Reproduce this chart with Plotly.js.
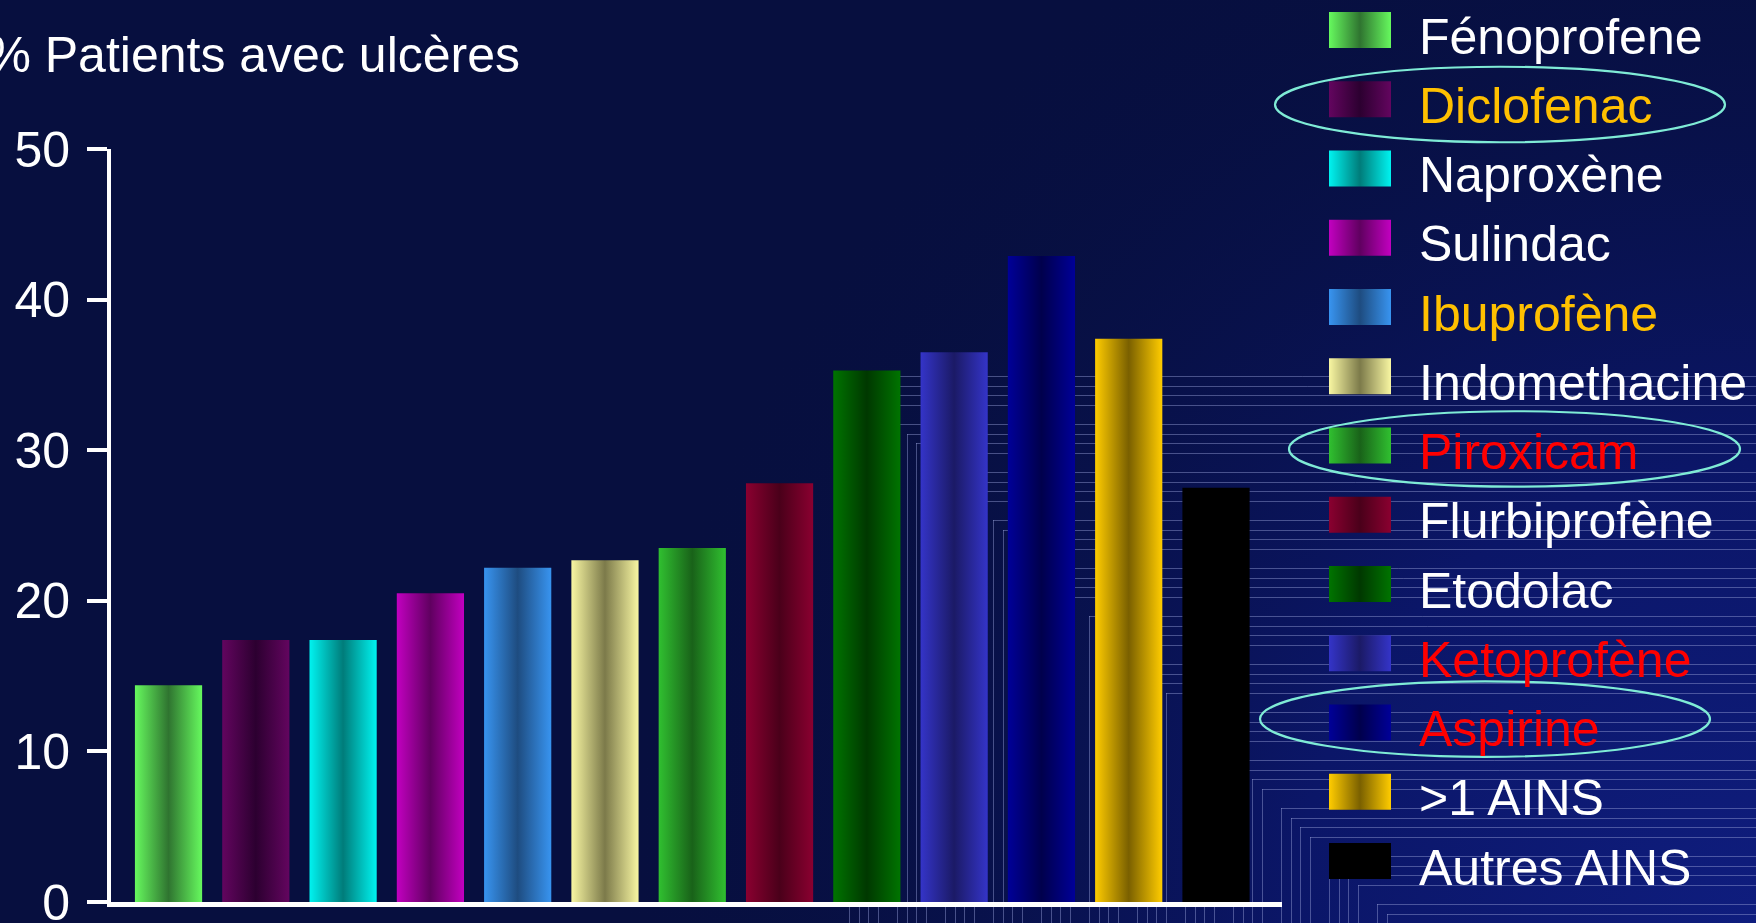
<!DOCTYPE html>
<html><head><meta charset="utf-8">
<script src="https://cdn.plot.ly/plotly-3.0.1.min.js"></script>
<style>
html,body{margin:0;padding:0;width:1756px;height:923px;overflow:hidden;background:#070F3F;}
#bg{position:absolute;left:0;top:0;}
#chart{position:absolute;left:0;top:0;width:1756px;height:923px;}
</style></head><body>
<canvas id="bg" width="1756" height="923"></canvas>
<div id="chart"></div>
<script>
// ---- data ----
const categories = ['Fénoprofene','Diclofenac','Naproxène','Sulindac','Ibuprofène','Indomethacine','Piroxicam','Flurbiprofène','Etodolac','Ketoprofène','Aspirine','>1 AINS','Autres AINS'];
const values = [14.4, 17.4, 17.4, 20.5, 22.2, 22.7, 23.5, 27.8, 35.3, 36.5, 42.9, 37.4, 27.5];
const edgeColors = ['#66F95E','#63055F','#00F3F0','#C200C0','#3894F0','#F8F6A2','#30C030','#8A0030','#007400','#3434C8','#000098','#FFCC00','#000000'];
const centerColors = ['#2F7430','#2C0030','#007C7A','#600060','#1E4C80','#7C7A4A','#196219','#4A001A','#003800','#1B1A66','#00004C','#7A6000','#000000'];
const labelColors = ['#FFFFFF','#FFC000','#FFFFFF','#FFFFFF','#FFC000','#FFFFFF','#FF0000','#FFFFFF','#FFFFFF','#FF0000','#FF0000','#FFFFFF','#FFFFFF'];
const highlighted = ['Diclofenac','Piroxicam','Aspirine'];
const yTickValues = [0, 10, 20, 30, 40, 50];
const yTickLabels = ['0', '10', '20', '30', '40', '50'];
const titleText = '% Patients avec ulcères';

// ---- background decoration ----
(function(){
  const cv = document.getElementById('bg'); const ctx = cv.getContext('2d');
  ctx.fillStyle = '#070F3F'; ctx.fillRect(0,0,1756,923);
  const g = ctx.createRadialGradient(1756,923,0,1756,923,1150);
  g.addColorStop(0,'#0F1D7E'); g.addColorStop(0.4,'#0B1668'); g.addColorStop(1,'rgba(7,15,63,0)');
  ctx.fillStyle = g; ctx.fillRect(0,0,1756,923);
  ctx.strokeStyle = 'rgba(150,160,215,0.45)'; ctx.lineWidth = 1;
  const offs = [0,10,19,29], diag = 473;
  for (let b = 376; b < 923; b += 48) for (const o of offs) {
    const y = b + o; if (y > 923) continue;
    ctx.beginPath(); ctx.moveTo(y + diag, y + 0.5); ctx.lineTo(1756, y + 0.5); ctx.stroke();
  }
  for (let b = 849; b < 1756; b += 48) for (const o of offs) {
    const x = b + o; if (x > 1756) continue;
    ctx.beginPath(); ctx.moveTo(x + 0.5, x - diag); ctx.lineTo(x + 0.5, 923); ctx.stroke();
  }
})();

// ---- chart ----
const W = 1756, H = 923;
const barWidth = 0.77;
const traces = [];
categories.forEach((c, i) => {
  const x0 = i - barWidth/2, x1 = i + barWidth/2;
  traces.push({
    type: 'scatter', mode: 'none', fill: 'toself', name: c,
    x: [x0, x1, x1, x0, x0], y: [0, 0, values[i], values[i], 0],
    fillcolor: edgeColors[i],
    fillgradient: {type: 'horizontal', start: x0, stop: x1,
      colorscale: [[0, edgeColors[i]], [0.5, centerColors[i]], [1, edgeColors[i]]]},
    hoverinfo: 'skip', showlegend: false, xaxis: 'x', yaxis: 'y'
  });
});
// custom legend (pixel x, row y)
const swX0 = 1329, swX1 = 1391, swHalf = 0.26;
categories.forEach((c, i) => {
  traces.push({
    type: 'scatter', mode: 'none', fill: 'toself', name: c,
    x: [swX0, swX1, swX1, swX0, swX0], y: [i - swHalf, i - swHalf, i + swHalf, i + swHalf, i - swHalf],
    fillcolor: edgeColors[i],
    fillgradient: {type: 'horizontal', start: swX0, stop: swX1,
      colorscale: [[0, edgeColors[i]], [0.5, centerColors[i]], [1, edgeColors[i]]]},
    hoverinfo: 'skip', showlegend: false, xaxis: 'x2', yaxis: 'y2'
  });
});

const font = 'Liberation Sans, Arial, sans-serif';
const annotations = categories.map((c, i) => ({
  xref: 'x2', yref: 'y2', x: 1417, y: i + 0.094, xanchor: 'left', yanchor: 'middle',
  text: c, showarrow: false, font: {family: font, size: 50, color: labelColors[i]}
}));

const ellipseGeom = {'Diclofenac': [1275, 1725, 0.076], 'Piroxicam': [1289, 1740, 0.05], 'Aspirine': [1260, 1710, -0.05]};
const shapes = highlighted.map(h => {
  const i = categories.indexOf(h); const g = ellipseGeom[h];
  return {type: 'circle', xref: 'x2', yref: 'y2', x0: g[0], x1: g[1],
    y0: i + g[2] - 0.545, y1: i + g[2] + 0.545, line: {color: '#7FEBD6', width: 2.2}};
});

const layout = {
  width: W, height: H, margin: {l: 0, r: 0, t: 0, b: 0},
  paper_bgcolor: 'rgba(0,0,0,0)', plot_bgcolor: 'rgba(0,0,0,0)',
  font: {family: font, color: '#FFFFFF'},
  showlegend: false,
  title: {text: titleText, xref: 'container', yref: 'container', x: 520/W, xanchor: 'right',
    y: 1 - 54/H, yanchor: 'middle', font: {family: font, size: 50, color: '#FFFFFF'}},
  xaxis: {domain: [111/W, 1282/W], range: [-0.659, 12.756], showline: true, linecolor: '#FFFFFF', linewidth: 5,
    showticklabels: false, ticks: '', showgrid: false, zeroline: false, fixedrange: true},
  yaxis: {domain: [21/H, 774/H], range: [0, 50], tickvals: yTickValues, ticktext: yTickLabels,
    ticks: 'outside', ticklen: 20, tickwidth: 4, tickcolor: '#FFFFFF', showline: true, linecolor: '#FFFFFF', linewidth: 4,
    tickfont: {family: font, size: 50, color: '#FFFFFF'}, ticklabelstandoff: 7, ticklabeloverflow: 'allow',
    showgrid: false, zeroline: false, fixedrange: true},
  xaxis2: {domain: [0, 1], range: [0, W], visible: false, anchor: 'y2', fixedrange: true},
  yaxis2: {domain: [0, 1], range: [12.895, -0.4332], visible: false, anchor: 'x2', fixedrange: true},
  annotations: annotations, shapes: shapes
};
Plotly.newPlot('chart', traces, layout, {staticPlot: true});
</script></body></html>
